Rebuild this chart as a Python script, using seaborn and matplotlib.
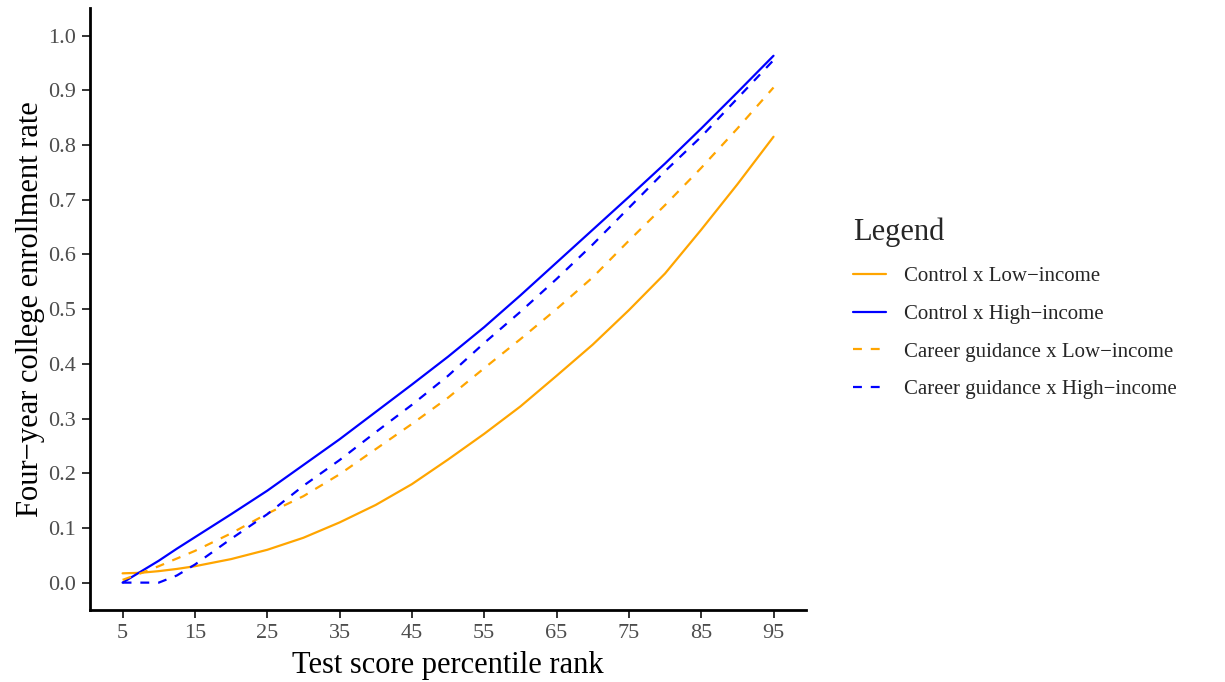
import numpy as np
import pandas as pd
import matplotlib
matplotlib.use("Agg")
import matplotlib.pyplot as plt
import seaborn as sns

# Data
percentile = [5, 7.5, 10, 12.5, 15, 20, 25, 30, 35, 40, 45, 50, 55, 60, 65, 70, 75, 80, 85, 90, 95]
control_low = [0.017, 0.018, 0.021, 0.025, 0.030, 0.043, 0.060, 0.082, 0.110, 0.142, 0.180, 0.225,
               0.272, 0.322, 0.378, 0.435, 0.498, 0.565, 0.645, 0.728, 0.815]
control_high = [0.000, 0.020, 0.040, 0.062, 0.083, 0.125, 0.168, 0.215, 0.262, 0.312, 0.362, 0.413,
                0.467, 0.525, 0.585, 0.645, 0.705, 0.766, 0.830, 0.896, 0.963]
guidance_low = [0.005, 0.017, 0.030, 0.044, 0.058, 0.090, 0.126, 0.158, 0.198, 0.244, 0.290, 0.338,
                0.392, 0.445, 0.500, 0.558, 0.625, 0.690, 0.758, 0.830, 0.905]
guidance_high = [0.000, 0.000, 0.000, 0.013, 0.033, 0.080, 0.125, 0.177, 0.224, 0.275, 0.325, 0.378,
                 0.438, 0.495, 0.555, 0.618, 0.685, 0.752, 0.815, 0.885, 0.955]

labels = ["Control x Low\u2212income", "Control x High\u2212income",
          "Career guidance x Low\u2212income", "Career guidance x High\u2212income"]
series = [control_low, control_high, guidance_low, guidance_high]
colors = ["#FFA500", "#0000FF", "#FFA500", "#0000FF"]
dash_styles = ["", "", (4, 4), (4, 4)]

x_ticks = [5, 15, 25, 35, 45, 55, 65, 75, 85, 95]
y_ticks = [0.0, 0.1, 0.2, 0.3, 0.4, 0.5, 0.6, 0.7, 0.8, 0.9, 1.0]

df = pd.concat([pd.DataFrame({"x": percentile, "y": vals, "Legend": lab})
                for lab, vals in zip(labels, series)], ignore_index=True)

sns.set_theme(style="white")
plt.rcParams["font.family"] = ["Liberation Serif", "DejaVu Serif"]

fig = plt.figure(figsize=(12.25, 6.82), dpi=100)
ax = fig.add_axes([0.0735, 0.1056, 0.5845, 0.8824])

sns.lineplot(data=df, x="x", y="y", hue="Legend", style="Legend",
             hue_order=labels, style_order=labels,
             palette=dict(zip(labels, colors)), dashes=dict(zip(labels, dash_styles)),
             linewidth=1.6, ax=ax)

ax.set_xlim(0.5, 99.5)
ax.set_ylim(-0.05, 1.05)
ax.set_xticks(x_ticks)
ax.set_xticklabels([str(t) for t in x_ticks])
ax.set_yticks(y_ticks)
ax.set_yticklabels([f"{t:.1f}" for t in y_ticks])
ax.tick_params(axis="both", labelsize=16, labelcolor="#4d4d4d", color="#333333",
               length=6, width=1.4, direction="out", bottom=True, left=True, pad=4)
ax.set_xlabel("Test score percentile rank", fontsize=22, color="black", labelpad=6)
ax.set_ylabel("Four\u2212year college enrollment rate", fontsize=22, color="black", labelpad=2)

for side in ["top", "right"]:
    ax.spines[side].set_visible(False)
for side in ["left", "bottom"]:
    ax.spines[side].set_color("black")
    ax.spines[side].set_linewidth(2.0)

leg = ax.legend(title="Legend", loc="upper left", bbox_to_anchor=(1.040, 0.683),
                frameon=False, fontsize=15, title_fontsize=22, handlelength=1.55,
                handletextpad=0.87, labelspacing=0.87)
leg._legend_box.align = "left"
leg._legend_box.sep = 14

fig.savefig("out.png", dpi=100)
